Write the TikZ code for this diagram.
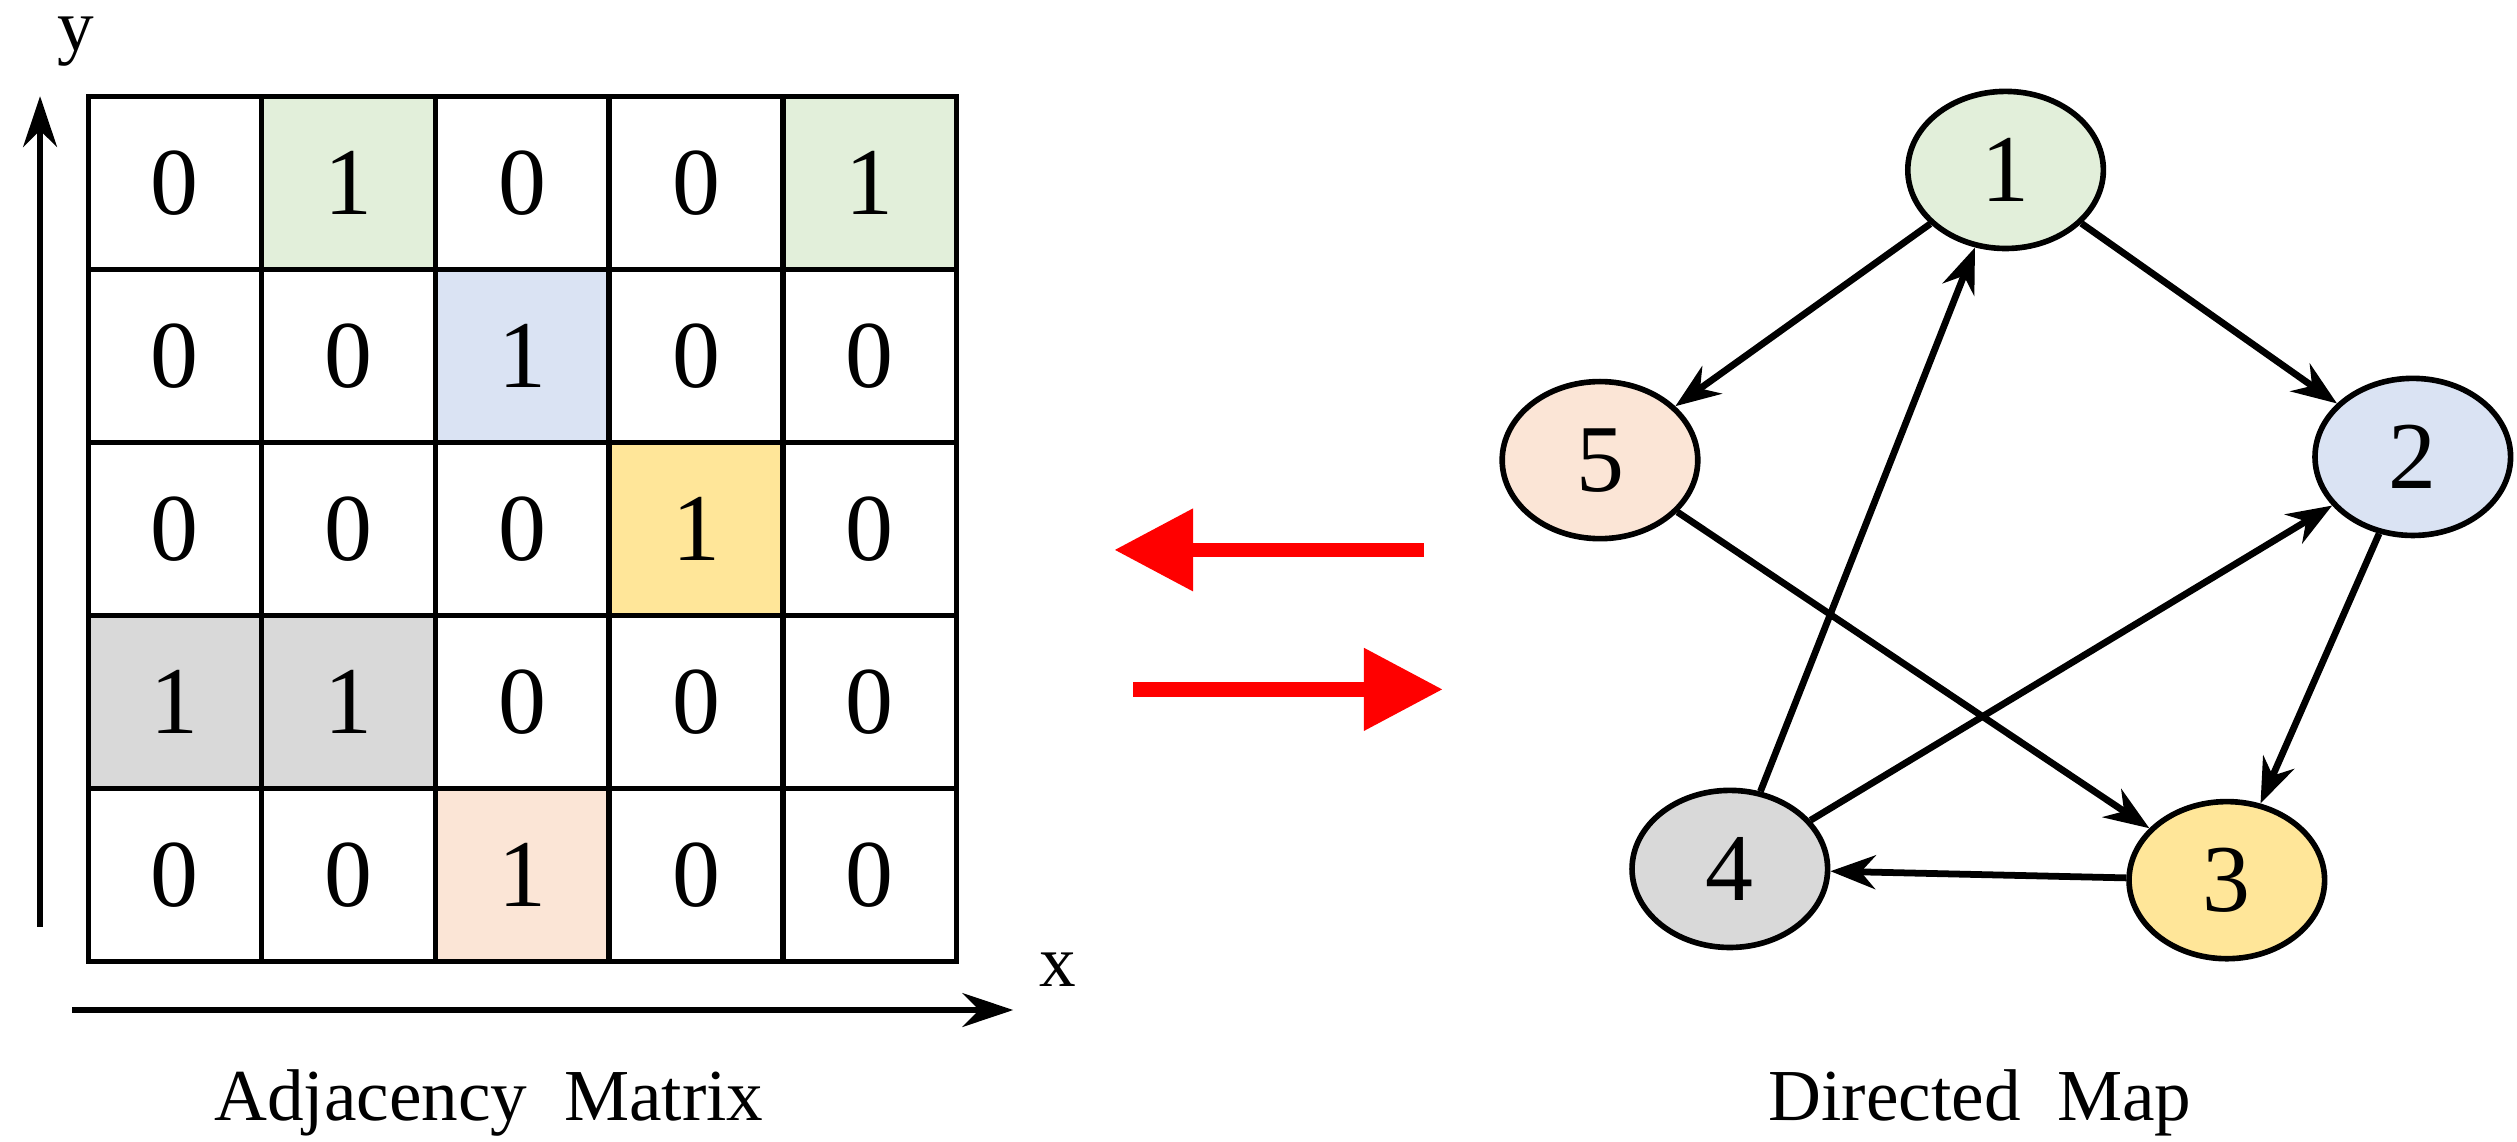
\documentclass[tikz,border=0pt]{standalone}
\usepackage{fontspec}
\setmainfont{Liberation Serif}
\usetikzlibrary{shapes.geometric,arrows.meta}
\definecolor{cg}{RGB}{226,239,218}
\definecolor{cb}{RGB}{218,227,243}
\definecolor{cy}{RGB}{255,230,153}
\definecolor{cgr}{RGB}{217,217,217}
\definecolor{cp}{RGB}{251,229,214}
\begin{document}
\begin{tikzpicture}[
  cell/.style={draw,line width=0.9pt,minimum width=1.08cm,minimum height=1.08cm,inner sep=0pt,font=\fontsize{17}{17}\selectfont},
  vtx/.style={draw,line width=1pt,ellipse,minimum width=1.22cm,minimum height=0.98cm,inner sep=0pt,font=\fontsize{17}{17}\selectfont},
  edge/.style={line width=1.2pt,-{Stealth[length=8pt,width=6pt]}},
  red/.style={draw=red,line width=2.6pt,-{Triangle[length=14pt,width=14pt]}},
  lab/.style={font=\fontsize{13}{13}\selectfont}]
\useasboundingbox (0,0) rectangle (15.7,7.12);
% matrix
\foreach \r/\vals/\cols in {0/{0,1,0,0,1}/{white,cg,white,white,cg},
                            1/{0,0,1,0,0}/{white,white,cb,white,white},
                            2/{0,0,0,1,0}/{white,white,white,cy,white},
                            3/{1,1,0,0,0}/{cgr,cgr,white,white,white},
                            4/{0,0,1,0,0}/{white,white,cp,white,white}}{
  \foreach \v [count=\c from 0] in \vals {
    \pgfmathsetmacro{\xx}{1.09+1.084*\c}
    \pgfmathsetmacro{\yy}{5.98-1.08*\r}
    \foreach \col [count=\k from 0] in \cols {
      \ifnum\k=\c
        \node[cell,fill=\col] (m\r\c) at (\xx,\yy) {\v};
      \fi
    }
  }
}
% axes
\coordinate (ya) at (0.25,1.34); \coordinate (yb) at (0.25,6.52);
\draw[line width=1pt,-{Stealth[length=9pt,width=6pt]}] (ya) -- (yb);
\node[lab] (ylab) at (0.47,6.86) {y};
\coordinate (xa) at (0.45,0.82); \coordinate (xb) at (6.32,0.82);
\draw[line width=1pt,-{Stealth[length=9pt,width=6pt]}] (xa) -- (xb);
\node[lab] (xlab) at (6.6,1.07) {x};
\node[lab] (t1) at (3.05,0.24) {Adjacency\ \ Matrix};
% red arrows
\coordinate (ra) at (8.88,3.69); \coordinate (rb) at (6.95,3.69);
\coordinate (rc) at (7.07,2.82); \coordinate (rd) at (9.0,2.82);
\draw[red] (ra) -- (rb);
\draw[red] (rc) -- (rd);
% graph
\node[vtx,fill=cg] (n1) at (12.51,6.06) {1};
\node[vtx,fill=cb] (n2) at (15.05,4.27) {2};
\node[vtx,fill=cy] (n3) at (13.89,1.63) {3};
\node[vtx,fill=cgr] (n4) at (10.79,1.70) {4};
\node[vtx,fill=cp] (n5) at (9.98,4.25) {5};
\draw[edge] (n1) -- (n5);
\draw[edge] (n1) -- (n2);
\draw[edge] (n2) -- (n3);
\draw[edge] (n3) -- (n4);
\draw[edge] (n4) -- (n1);
\draw[edge] (n4) -- (n2);
\draw[edge] (n5) -- (n3);
\node[lab] (t2) at (12.35,0.24) {Directed\ \ Map};
\end{tikzpicture}
\end{document}
